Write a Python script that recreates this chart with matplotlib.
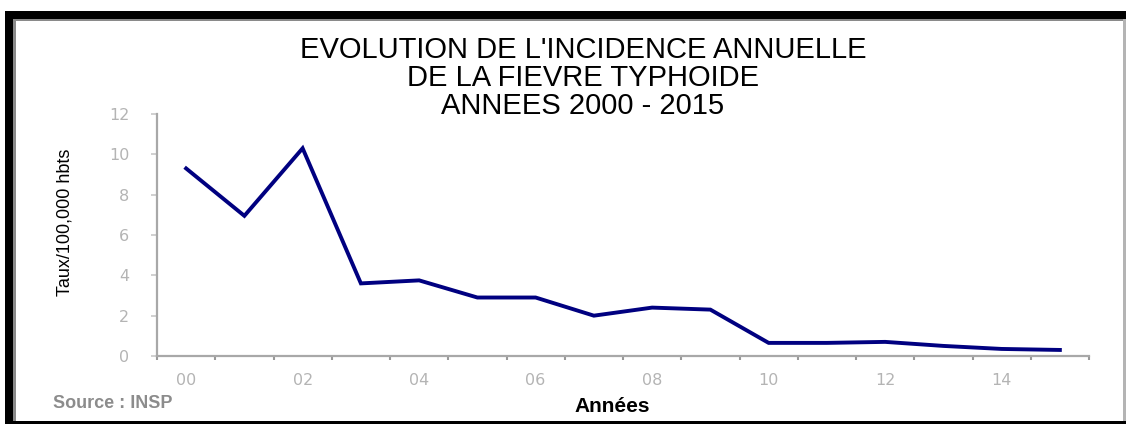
import matplotlib
matplotlib.use("Agg")
import matplotlib.pyplot as plt
from matplotlib.patches import Rectangle

# ---- data ----
years = list(range(2000, 2016))
incidence = [9.3, 6.95, 10.3, 3.6, 3.75, 2.9, 2.9, 2.0, 2.4, 2.3, 0.65, 0.65, 0.7, 0.5, 0.35, 0.3]
tick_labels = ["00", "02", "04", "06", "08", "10", "12", "14"]
y_ticks = [0, 2, 4, 6, 8, 10, 12]
title_lines = ["EVOLUTION DE L'INCIDENCE ANNUELLE", "DE LA FIEVRE TYPHOIDE", "ANNEES 2000 - 2015"]
y_label = "Taux/100,000 hbts"
x_label = "Années"
source = "Source : INSP"

W, H = 1126, 424
fig = plt.figure(figsize=(W / 100, H / 100), dpi=100)
fig.patch.set_facecolor("white")

def fx(px):
    return px / W

def fy(py):
    return 1 - py / H

# frame borders
def prect(x0, y0, x1, y1, color):
    fig.add_artist(Rectangle((fx(x0), fy(y1)), fx(x1) - fx(x0), fy(y0) - fy(y1),
                             transform=fig.transFigure, facecolor=color, edgecolor="none", zorder=5))

prect(5, 11, 1126, 19, "black")
prect(5, 19, 1123, 21, "#8a8a8a")
prect(5, 11, 13, 424, "black")
prect(13, 19, 16, 421, "#8a8a8a")
prect(1123, 19, 1126, 421, "#b4b4b4")
prect(5, 421, 1126, 424, "black")

# axes
ax = fig.add_axes([fx(157), fy(356), fx(1089) - fx(157), fy(114) - fy(356)])
x = list(range(len(years)))
ax.plot(x, incidence, color="#000080", lw=2.8, solid_joinstyle="miter")
ax.set_xlim(-0.5, len(years) - 0.5)
ax.set_ylim(0, 12)

for s in ["top", "right"]:
    ax.spines[s].set_visible(False)
for s in ["left", "bottom"]:
    ax.spines[s].set_color("#a8a8a8")
    ax.spines[s].set_linewidth(1.6)

ax.set_yticks(y_ticks)
ax.set_yticklabels([str(v) for v in y_ticks])
ax.tick_params(axis="y", length=4, width=1.2, color="#c8c8c8", labelcolor="#b4b4b4",
               labelsize=11.5, pad=16)

label_pos = [years.index(2000 + int(t)) for t in tick_labels]
ax.set_xticks(label_pos)
ax.set_xticklabels(tick_labels)
ax.set_xticks([i - 0.5 for i in range(len(years) + 1)], minor=True)
ax.tick_params(axis="x", which="major", length=0, labelcolor="#b4b4b4", labelsize=11.5, pad=12)
ax.tick_params(axis="x", which="minor", length=3, width=1.5, color="#999999")

# texts
fig.text(fx(583), fy(78), "\n".join(title_lines), ha="center", va="center",
         fontsize=21, family=["Liberation Sans", "DejaVu Sans"], color="black", linespacing=1.0)
fig.text(fx(65), fy(222), y_label, rotation=90, ha="center", va="center",
         fontsize=13, family=["Liberation Sans Narrow", "Liberation Sans", "DejaVu Sans"], color="black")
fig.text(fx(612), fy(406), x_label, ha="center", va="center", fontsize=15, fontweight="bold",
         family=["Liberation Sans", "DejaVu Sans"], color="black")
fig.text(fx(53), fy(404), source, ha="left", va="center", fontsize=13, fontweight="bold",
         family=["Liberation Sans", "DejaVu Sans"], color="#8c8c8c")

fig.savefig("out.png", dpi=100, facecolor="white")
